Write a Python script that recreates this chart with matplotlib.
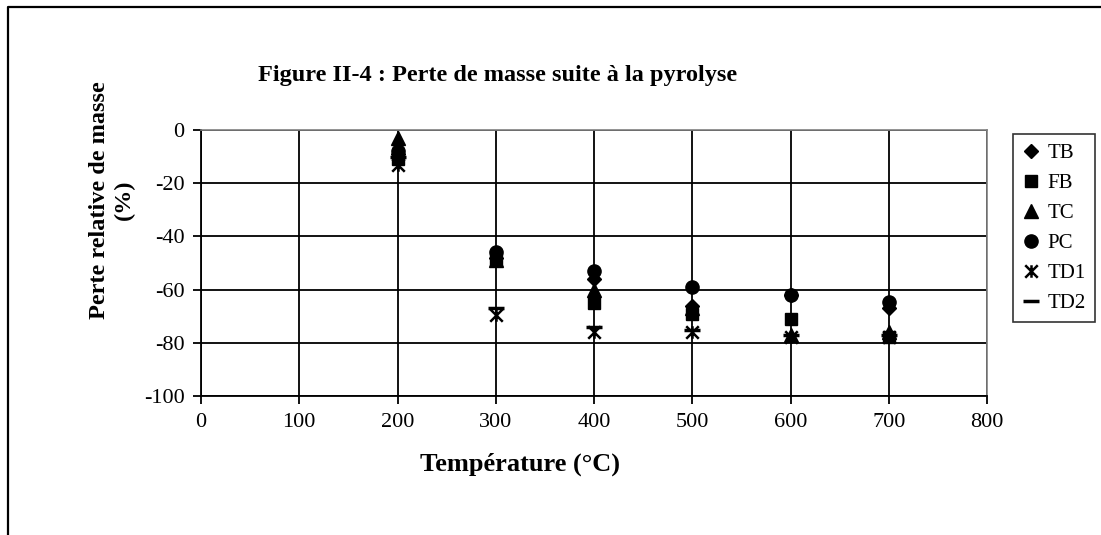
import numpy as np
import matplotlib.pyplot as plt
from matplotlib.path import Path
from matplotlib.lines import Line2D

plt.rcParams['font.family'] = ['Liberation Serif', 'DejaVu Serif']
plt.rcParams['axes.unicode_minus'] = False

# temperatures (°C) and relative mass loss (%)
temperature = [200, 300, 400, 500, 600, 700]
TB  = [-9, -48, -56, -66, -62, -67]
FB  = [-11, -49, -65, -69, -71, -78]
TC  = [-3, -49, -60, -67, -77, -76]
PC  = [-8, -46, -53, -59, -62, -64.5]
TD1 = [-13, -69.5, -76, -76, -78, -78]
TD2 = [-10, -67, -74, -75, -77, -77]

# Excel style "star": an X with a vertical bar through it
star = Path([(-1, -1), (1, 1), (-1, 1), (1, -1), (0, -1), (0, 1)],
            [Path.MOVETO, Path.LINETO, Path.MOVETO, Path.LINETO, Path.MOVETO, Path.LINETO])

series = [
    ('TB', TB, dict(marker='D', markersize=7.5)),
    ('FB', FB, dict(marker='s', markersize=8.5)),
    ('TC', TC, dict(marker='^', markersize=9.5)),
    ('PC', PC, dict(marker='o', markersize=9.5)),
    ('TD1', TD1, dict(marker=star, markersize=9, markerfacecolor='none', markeredgewidth=1.8)),
    ('TD2', TD2, dict(marker='_', markersize=11, markeredgewidth=2.5)),
]

fig = plt.figure(figsize=(11.01, 5.35), dpi=100)
ax = fig.add_axes([0.1826, 0.2598, 0.7139, 0.4972])

for name, vals, style in series:
    ax.plot(temperature, vals, linestyle='none', color='black',
            markeredgecolor='black', label=name, **style, zorder=3)

ax.set_xlim(0, 800)
ax.set_ylim(-100, 0)
ax.set_xticks(np.arange(0, 801, 100))
ax.set_yticks(np.arange(-100, 1, 20))
ax.grid(True, color='black', linewidth=1.3)
ax.tick_params(axis='both', direction='out', length=6, width=1.3,
               labelsize=16, pad=6)
for side in ['top', 'right']:
    ax.spines[side].set_color('#808080')
    ax.spines[side].set_linewidth(1.2)
for side in ['left', 'bottom']:
    ax.spines[side].set_linewidth(1.3)

fig.text(520 / 1101, 1 - 464 / 535, 'Température (°C)', ha='center', va='center',
         fontsize=19, fontweight='bold')
fig.text(112 / 1101, 1 - 200 / 535, 'Perte relative de masse\n(%)', ha='center',
         va='center', rotation=90, fontsize=17.5, fontweight='bold',
         linespacing=1.25, multialignment='center')

fig.text(0.4515, 0.858, 'Figure II-4 : Perte de masse suite à la pyrolyse',
         ha='center', va='center', fontsize=17.5, fontweight='bold')

leg = ax.legend(loc='upper left', bbox_to_anchor=(1.033, 0.985), fontsize=15,
                frameon=True, fancybox=False, edgecolor='black',
                borderpad=0.45, labelspacing=0.5, handlelength=0.8,
                handletextpad=0.4, borderaxespad=0)
leg.get_frame().set_linewidth(1.2)

# outer chart border (left and top edges visible)
x0, y0 = 8 / 1101, 1 - 7 / 535
fig.add_artist(Line2D([x0, x0, 1.0], [0.0, y0, y0], color='black',
                      linewidth=1.6, transform=fig.transFigure))

fig.savefig('out.png', dpi=100)
